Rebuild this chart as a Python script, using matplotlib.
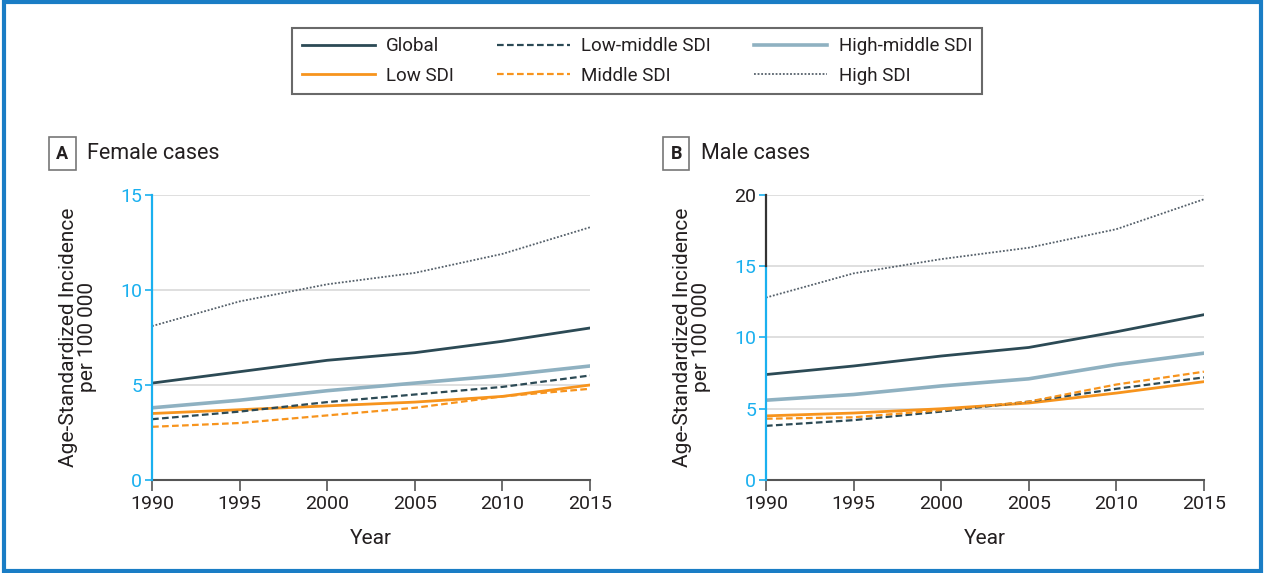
import matplotlib.pyplot as plt
from matplotlib.patches import Rectangle
from matplotlib.lines import Line2D

plt.rcParams['font.family'] = ['Roboto', 'DejaVu Sans']

years = [1990, 1995, 2000, 2005, 2010, 2015]
series_names = ['Global', 'Low SDI', 'Low-middle SDI', 'Middle SDI', 'High-middle SDI', 'High SDI']

female = {
    'Global': [5.1, 5.7, 6.3, 6.7, 7.3, 8.0],
    'Low SDI': [3.5, 3.7, 3.9, 4.1, 4.4, 5.0],
    'Low-middle SDI': [3.2, 3.6, 4.1, 4.5, 4.9, 5.5],
    'Middle SDI': [2.8, 3.0, 3.4, 3.8, 4.4, 4.8],
    'High-middle SDI': [3.8, 4.2, 4.7, 5.1, 5.5, 6.0],
    'High SDI': [8.1, 9.4, 10.3, 10.9, 11.9, 13.3],
}
male = {
    'Global': [7.4, 8.0, 8.7, 9.3, 10.4, 11.6],
    'Low SDI': [4.5, 4.7, 5.0, 5.4, 6.1, 6.9],
    'Low-middle SDI': [3.8, 4.2, 4.8, 5.5, 6.4, 7.2],
    'Middle SDI': [4.3, 4.4, 4.9, 5.5, 6.7, 7.6],
    'High-middle SDI': [5.6, 6.0, 6.6, 7.1, 8.1, 8.9],
    'High SDI': [12.8, 14.5, 15.5, 16.3, 17.6, 19.7],
}

dark = '#2c4a55'
orange = '#f7941d'
light = '#8fb1c1'
blue = '#1ab0ef'
text_c = '#231f20'
styles = {
    'Global': dict(color=dark, lw=2.0, ls='-'),
    'Low SDI': dict(color=orange, lw=2.0, ls='-'),
    'Low-middle SDI': dict(color=dark, lw=1.6, ls=(0, (3, 1.5))),
    'Middle SDI': dict(color=orange, lw=1.6, ls=(0, (3, 1.5))),
    'High-middle SDI': dict(color=light, lw=2.6, ls='-'),
    'High SDI': dict(color='#55606a', lw=1.3, ls=(0, (1, 1))),
}

fig = plt.figure(figsize=(12.65, 5.73), dpi=100)

# blue outer frame
fig.patches.append(Rectangle((0.003, 0.004), 0.994, 0.992, transform=fig.transFigure,
                             fill=False, edgecolor='#1a7dc5', lw=3))


def draw_panel(ax, data, ymax, letter, title, dark_top):
    for name in series_names:
        ax.plot(years, data[name], **styles[name], zorder=3)
    ax.set_xlim(1990, 2015)
    ax.set_ylim(0, ymax)
    ax.set_xticks(years)
    ax.set_yticks(range(0, ymax + 1, 5))
    ax.yaxis.grid(True, color='#d9d9d9', lw=1.2)
    ax.set_axisbelow(True)
    for s in ['top', 'right', 'left']:
        ax.spines[s].set_visible(False)
    ax.spines['bottom'].set_color('#555555')
    ax.spines['bottom'].set_linewidth(1.5)
    ax.tick_params(axis='x', length=8, width=1.2, color='#555555', labelsize=14,
                   labelcolor=text_c, pad=3)
    ax.tick_params(axis='y', length=5, width=1.2, color=blue, labelsize=14,
                   labelcolor=blue, pad=2)
    # left axis line, partly dark at the top for panel B
    split = 15 if dark_top else ymax
    ax.plot([0, 0], [0, split / ymax], transform=ax.transAxes, color=blue, lw=1.6,
            clip_on=False, zorder=4)
    if dark_top:
        ax.plot([0, 0], [split / ymax, 1], transform=ax.transAxes, color='#333333',
                lw=1.6, clip_on=False, zorder=4)
        ax.get_yticklabels()[-1].set_color(text_c)
        ax.yaxis.get_major_ticks()[-1].tick1line.set_color('#333333')
    ax.set_xlabel('Year', fontsize=15, color=text_c, labelpad=11)
    ax.set_ylabel('Age-Standardized Incidence\nper 100 000', fontsize=15,
                  color=text_c, labelpad=17, linespacing=1.0)
    ax.text(-0.205, 1.145, letter, transform=ax.transAxes, fontsize=13,
            fontweight='bold', color=text_c, ha='center', va='center',
            bbox=dict(boxstyle='square,pad=0.4', fc='white', ec='#777777', lw=1.2))
    ax.text(-0.148, 1.145, title, transform=ax.transAxes, fontsize=15.5,
            color=text_c, ha='left', va='center')


ax1 = fig.add_axes([0.1202, 0.1623, 0.3462, 0.4974])
ax2 = fig.add_axes([0.6055, 0.1623, 0.3462, 0.4974])
draw_panel(ax1, female, 15, 'A', 'Female cases', False)
draw_panel(ax2, male, 20, 'B', 'Male cases', True)

handles = [Line2D([], [], **styles[n]) for n in series_names]
leg = fig.legend(handles, series_names, ncol=3, loc='center',
                 bbox_to_anchor=(0.5035, 0.8935), frameon=True, fancybox=False,
                 fontsize=13.5, handlelength=3.9, columnspacing=2.3, handletextpad=0.6,
                 labelspacing=0.6, borderpad=0.5, borderaxespad=0, labelcolor=text_c)
leg.get_frame().set_edgecolor('#444444')
leg.get_frame().set_linewidth(1.5)

fig.savefig('out.png', dpi=100)
